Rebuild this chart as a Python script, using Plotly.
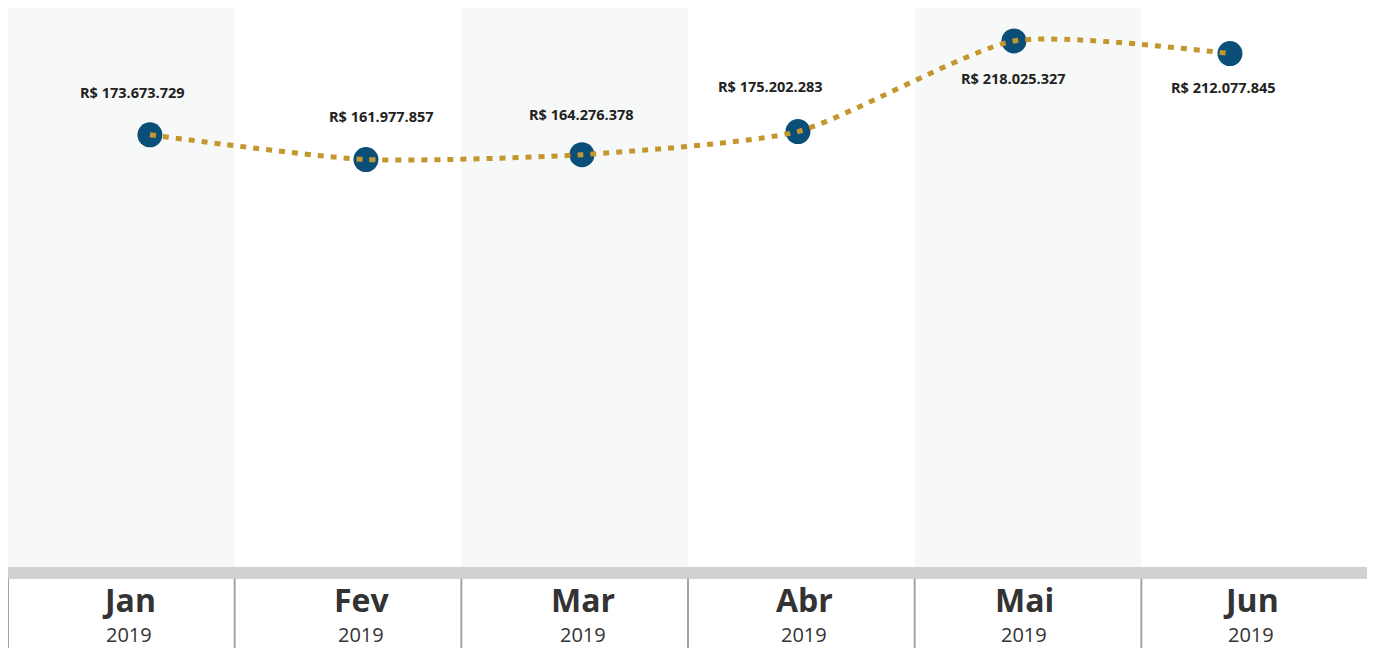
import plotly.graph_objects as go

months = ["Jan", "Fev", "Mar", "Abr", "Mai", "Jun"]
years = ["2019", "2019", "2019", "2019", "2019", "2019"]
values = [173673729, 161977857, 164276378, 175202283, 218025327, 212077845]

# style: label offsets (pixels)
val_xshift = [-17, 16, 0, -27, 0, -6]
val_yshift = [42, 43, 40, 45, -38, -34]
month_xshift = [8, 13, 8, 3, -4, -4]

def brl(v):
    return "R$ " + f"{v:,}".replace(",", ".")

idx = list(range(len(months)))
W, H = 1360, 640
ml, mr, mt, mb = 0, 0, 0, 81
ph = H - mt - mb

fig = go.Figure()
fig.add_trace(go.Scatter(x=idx, y=values, mode="markers",
                         marker=dict(size=25, color="#0b4f79"),
                         hoverinfo="skip", showlegend=False))
fig.add_trace(go.Scatter(x=idx, y=values, mode="lines",
                         line=dict(color="#c4962e", width=5, dash="6px,7px",
                                   shape="spline", smoothing=0.6),
                         hoverinfo="skip", showlegend=False))

shapes = []
n = len(months)
for i in range(n):
    if i % 2 == 0:
        shapes.append(dict(type="rect", xref="paper", yref="paper",
                           x0=i / n, x1=(i + 1) / n, y0=0, y1=1,
                           fillcolor="#f7f9f8", line=dict(width=0), layer="below"))
bar_h = 12 / ph
shapes.append(dict(type="rect", xref="paper", yref="paper", x0=0, x1=1,
                   y0=-bar_h, y1=0, fillcolor="#d3d0d1", line=dict(width=0)))
for i in range(n):
    shapes.append(dict(type="line", xref="paper", yref="paper",
                       x0=i / n, x1=i / n, y0=-bar_h, y1=-mb / ph,
                       line=dict(color="#a3a3a3", width=2)))

ann = []
for i, v in enumerate(values):
    ann.append(dict(x=i, y=v, xref="x", yref="y", text="<b>" + brl(v) + "</b>",
                    showarrow=False, xshift=val_xshift[i], yshift=val_yshift[i],
                    xanchor="center", yanchor="middle",
                    font=dict(family="Open Sans", size=14.5, color="#222222")))
for i in range(n):
    ann.append(dict(x=(i + 0.5) / n, y=-32 / ph, xref="paper", yref="paper",
                    text="<b>" + months[i] + "</b>", showarrow=False,
                    xshift=month_xshift[i], xanchor="center", yanchor="middle",
                    font=dict(family="Open Sans", size=32, color="#333333")))
    ann.append(dict(x=(i + 0.5) / n, y=-67 / ph, xref="paper", yref="paper",
                    text=years[i], showarrow=False,
                    xshift=month_xshift[i], xanchor="center", yanchor="middle",
                    font=dict(family="Open Sans", size=20, color="#333333")))

fig.update_layout(
    width=W, height=H,
    margin=dict(l=ml, r=mr, t=mt, b=mb),
    paper_bgcolor="white", plot_bgcolor="white",
    xaxis=dict(range=[-0.657, 5.639], visible=False, fixedrange=True),
    yaxis=dict(range=[-30.6e6, 233.6e6], visible=False, fixedrange=True),
    shapes=shapes, annotations=ann, showlegend=False,
)
fig.write_html("out.html")
